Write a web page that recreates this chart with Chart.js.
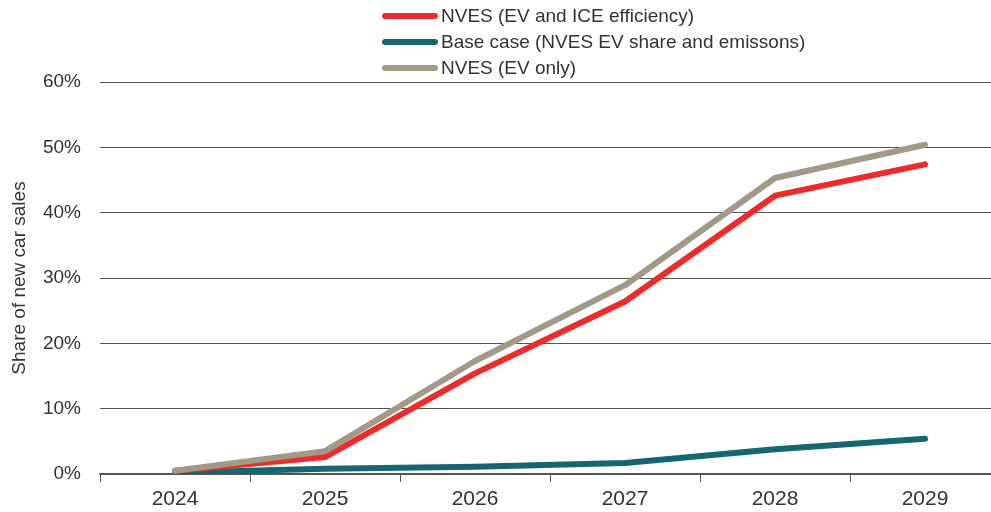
<!DOCTYPE html>
<html>
<head>
<meta charset="utf-8">
<script src="https://cdn.jsdelivr.net/npm/chart.js@4.4.0/dist/chart.umd.min.js"></script>
<style>
  html, body { margin: 0; padding: 0; background: #fff; overflow: hidden; width: 991px; height: 512px; }
  #wrap { position: relative; width: 1010px; height: 512px; }
  #legend { position: absolute; left: 382px; top: 3px; font-family: "Liberation Sans", Arial, sans-serif; font-size: 19px; color: #333; }
  #legend .item { display: flex; align-items: center; height: 26px; }
  #legend .sw { width: 56px; height: 6px; border-radius: 3px; margin-right: 3px; }
</style>
</head>
<body>
<div id="wrap">
  <canvas id="c" width="1010" height="512"></canvas>
  <div id="legend"></div>
</div>
<script>
const categories = ["2024", "2025", "2026", "2027", "2028", "2029"];
const nvesEfficiency = [0.5, 2.6, 15.4, 26.4, 42.6, 47.4];
const baseCase = [0.2, 0.8, 1.1, 1.7, 3.8, 5.4];
const nvesEvOnly = [0.5, 3.5, 17.3, 28.9, 45.3, 50.4];
const yTicks = [0, 10, 20, 30, 40, 50, 60];
const seriesNames = ["NVES (EV and ICE efficiency)", "Base case (NVES EV share and emissons)", "NVES (EV only)"];
const seriesColors = ["#EE2B2B", "#16666F", "#A29987"];
const yTitle = "Share of new car sales";

const font = "'Liberation Sans', Arial, sans-serif";
const datasets = [
  { label: seriesNames[0], data: nvesEfficiency, borderColor: seriesColors[0], backgroundColor: seriesColors[0], order: 2 },
  { label: seriesNames[1], data: baseCase, borderColor: seriesColors[1], backgroundColor: seriesColors[1], order: 3 },
  { label: seriesNames[2], data: nvesEvOnly, borderColor: seriesColors[2], backgroundColor: seriesColors[2], order: 1 }
].map(d => Object.assign(d, { borderWidth: 6, pointRadius: 0, tension: 0, borderCapStyle: 'round', borderJoinStyle: 'round', fill: false }));

const chart = new Chart(document.getElementById('c'), {
  type: 'line',
  data: { labels: categories, datasets },
  options: {
    responsive: false,
    animation: false,
    devicePixelRatio: 1,
    layout: { padding: { top: 82, right: 10, left: 0, bottom: 0 } },
    plugins: { legend: { display: false }, tooltip: { enabled: false } },
    scales: {
      x: {
        offset: true,
        grid: { offset: true, drawOnChartArea: false, drawTicks: true, tickLength: 8, color: '#555', lineWidth: 1 },
        border: { display: true, color: '#555', width: 1.5 },
        ticks: { color: '#333', font: { family: font, size: 21 }, padding: 5 },
        afterFit: s => { s.height = 38; }
      },
      y: {
        min: 0, max: 60,
        afterBuildTicks: s => { s.ticks = yTicks.map(v => ({ value: v })); },
        grid: { drawTicks: false, color: '#555', lineWidth: 1 },
        border: { display: false },
        ticks: { color: '#333', font: { family: font, size: 19 }, padding: 19, callback: v => v + '%' },
        title: { display: true, text: yTitle, color: '#333', font: { family: font, size: 19, weight: '500' }, padding: { top: 8, bottom: 0 } },
        afterFit: s => { s.width = 100; }
      }
    }
  }
});

const lg = document.getElementById('legend');
seriesNames.forEach((n, i) => {
  const it = document.createElement('div');
  it.className = 'item';
  const sw = document.createElement('div');
  sw.className = 'sw';
  sw.style.background = seriesColors[i];
  const tx = document.createElement('span');
  tx.textContent = n;
  it.appendChild(sw); it.appendChild(tx);
  lg.appendChild(it);
});
</script>
</body>
</html>
